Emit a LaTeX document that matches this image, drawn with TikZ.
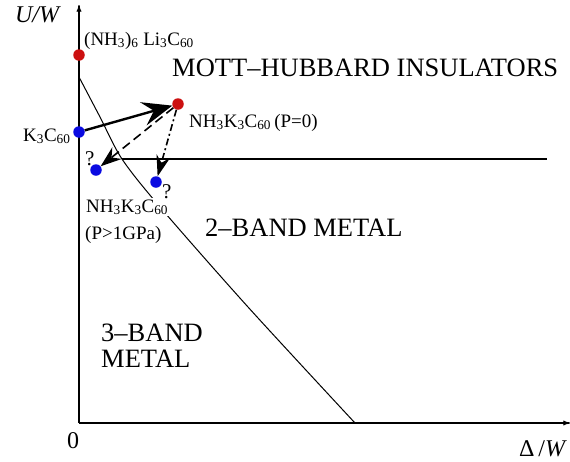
\documentclass[tikz,border=0pt]{standalone}
\usepackage{fontspec}
\setmainfont{Liberation Serif}
\usetikzlibrary{arrows.meta}
\definecolor{dotred}{RGB}{204,16,16}
\definecolor{dotblue}{RGB}{10,10,225}
\newcommand{\sbt}[1]{\textsubscript{#1}}
\begin{document}
\begin{tikzpicture}[x=1pt,y=-1pt,
  axisline/.style={line width=1.2pt,-{To[length=7pt,width=5pt]}},
  bnd/.style={line width=1.0pt},
  dotnode/.style={circle,inner sep=0pt,minimum size=11.5pt},
  reddot/.style={dotnode,fill=dotred},
  bluedot/.style={dotnode,fill=dotblue},
  bigtext/.style={anchor=base west,inner sep=0pt,font=\fontsize{26.5}{27}\selectfont},
  smalltext/.style={anchor=base west,inner sep=0pt,font=\fontsize{19}{20}\selectfont},
  axlabel/.style={inner sep=0pt,font=\fontsize{24}{25}\selectfont},
  solidarrow/.style={line width=2.4pt,-{Stealth[length=30pt,width=24pt,inset=11pt]}},
  dasharrow/.style={line width=1.6pt,dash pattern=on 9pt off 5pt,-{Stealth[length=21pt,width=15pt,inset=7pt]}},
  dotdasharrow/.style={line width=1.6pt,dash pattern=on 7pt off 3pt on 2pt off 3pt,-{Stealth[length=21pt,width=14pt,inset=7pt]}}
]
\useasboundingbox (0,0) rectangle (570,461);
% axes
\coordinate (O) at (79,423);
\coordinate (ytop) at (79,5);
\coordinate (xend) at (570,423);
\draw[axisline] (O) -- (ytop);
\draw[axisline] (O) -- (xend);
% phase boundaries
\draw[bnd] plot[smooth,tension=0.5] coordinates {(79,77) (100,117) (122,159) (160,207) (248,307) (355,423)};
\coordinate (hstart) at (122,159);
\coordinate (hend) at (547,159);
\draw[line width=1.2pt] (hstart) -- (hend);
% labels
\node[axlabel] (uw) at (38,15) {\textit{U/W}};
\node[axlabel] (dw) at (543,449) {Δ\,/\textit{W}};
\node[axlabel] (zero) at (73,441) {0};
\node[bigtext] (mott) at (172,76) {MOTT\textendash HUBBARD INSULATORS};
\node[bigtext] (two) at (205,236) {2\textendash BAND METAL};
\node[bigtext] (three) at (101,341) {3\textendash BAND};
\node[bigtext] (three2) at (101,367) {METAL};
\node[smalltext] (lilab) at (84,45) {(NH\sbt{3})\sbt{6} Li\sbt{3}C\sbt{60}};
\node[smalltext] (klab) at (23,141) {K\sbt{3}C\sbt{60}};
\node[smalltext] (nhlab) at (189,127) {NH\sbt{3}K\sbt{3}C\sbt{60}\,(P=0)};
\node[smalltext,fill=white,inner sep=1pt] (nhlab2) at (85,212) {NH\sbt{3}K\sbt{3}C\sbt{60}};
\node[smalltext] (plab) at (85,239) {(P>1GPa)};
\node[smalltext,font=\fontsize{21}{21}\selectfont] (q1) at (85,165) {?};
\node[smalltext,font=\fontsize{21}{21}\selectfont] (q2) at (162,198) {?};
% dots
\node[reddot] (li) at (79,55) {};
\node[bluedot] (k3) at (79,132) {};
\node[reddot] (nh) at (178,104) {};
\node[bluedot] (bl) at (96,170) {};
\node[bluedot] (br) at (156,182) {};
% arrows
\draw[solidarrow] (k3) -- (nh);
\draw[dasharrow] (nh) -- (bl);
\draw[dotdasharrow] (nh) -- (br);
\end{tikzpicture}
\end{document}
